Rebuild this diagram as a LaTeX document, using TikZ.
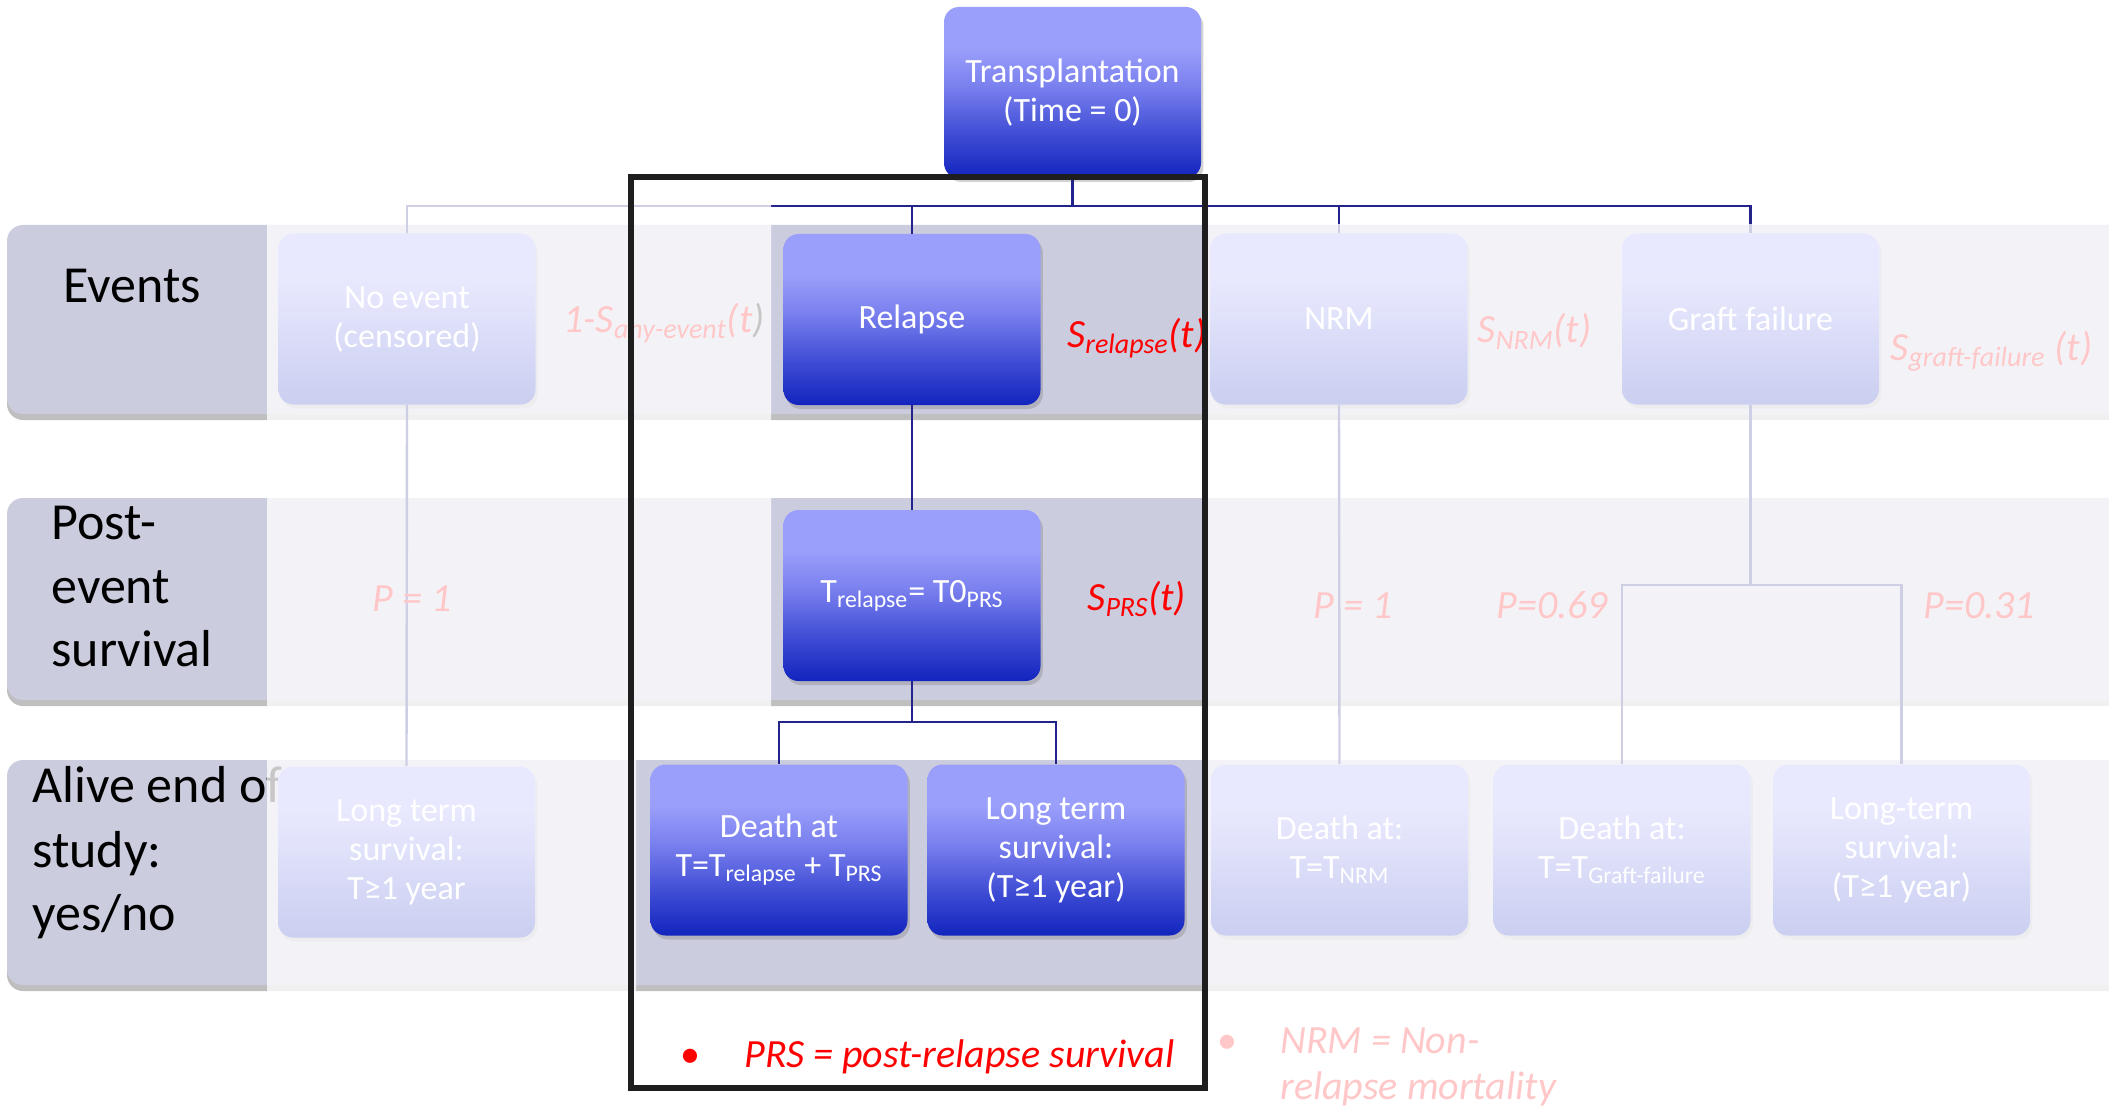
\documentclass[tikz,border=0pt]{standalone}
\usepackage{fontspec}
\setmainfont{Carlito}
\usetikzlibrary{shadows}

\definecolor{navy}{RGB}{35,35,140}
\definecolor{bandc}{RGB}{204,204,223}
\definecolor{bxdark}{RGB}{18,36,190}
\definecolor{bxmidA}{RGB}{60,74,211}
\definecolor{bxmidB}{RGB}{122,128,238}
\definecolor{bxlight}{RGB}{154,159,251}
\definecolor{framec}{RGB}{30,30,30}

% blue box fill: light on top, deep blue at the bottom
\pgfdeclareverticalshading{boxgrad}{100bp}{color(0bp)=(bxdark); color(25bp)=(bxdark); color(37bp)=(bxmidA); color(52bp)=(bxmidB); color(63bp)=(bxlight); color(100bp)=(bxlight)}

\begin{document}
\begin{tikzpicture}[x=0.5pt,y=-0.5pt,
  evbox/.style={shade, shading=boxgrad, rounded corners=7.5pt,
    minimum width=128.5pt, minimum height=85.5pt, inner sep=0pt,
    text=white, align=center, font=\fontsize{17}{19.5}\selectfont,
    drop shadow={opacity=0.35, shadow xshift=1.2pt, shadow yshift=-2pt}},
  link/.style={draw=navy, line width=1.2pt},
  band/.style={fill=bandc, drop shadow={opacity=0.5, shadow xshift=0pt, shadow yshift=-3pt}},
  rowlabel/.style={anchor=base west, inner sep=0pt, font=\fontsize{26}{32}\selectfont},
  prob/.style={anchor=base west, inner sep=0pt, text=red, font=\fontsize{20}{24}\selectfont\itshape},
  fade/.style={fill=white, fill opacity=0.78},
]
\useasboundingbox (0,0) rectangle (2109,1107);
\fill[white] (0,0) rectangle (2109,1107);

% row bands
\path[band, rounded corners=8pt] (7,225) rectangle (2160,414);
\path[band, rounded corners=8pt] (7,498) rectangle (2160,700);
\path[band, rounded corners=8pt] (7,760) rectangle (2160,985);

% row labels
\node[rowlabel] (lev)  at (63,302) {Events};
\node[rowlabel] (lpe1) at (51,539) {Post-};
\node[rowlabel] (lpe2) at (51,603) {event};
\node[rowlabel] (lpe3) at (51,666) {survival};
\node[rowlabel] (lal1) at (32,802) {Alive end of};
\node[rowlabel] (lal2) at (32,867) {study:};
\node[rowlabel] (lal3) at (32,930) {yes/no};

% boxes
\node[evbox] (trans) at (1072.5,92.5) {Transplantation\\(Time = 0)};
\node[evbox] (noev)  at (407,319)    {No event\\(censored)};
\node[evbox] (rel)   at (912,319.5)  {Relapse};
\node[evbox] (nrm)   at (1339,319)   {NRM};
\node[evbox] (gf)    at (1750.5,319) {Graft failure};
\node[evbox] (trel)  at (912,595.5)  {T\textsubscript{relapse}= T0\textsubscript{PRS}};
\node[evbox] (lt1)   at (406.5,852)  {Long term\\survival:\\T≥1 year};
\node[evbox] (d1)    at (779,850)    {Death at\\T=T\textsubscript{relapse} + T\textsubscript{PRS}};
\node[evbox] (lt2)   at (1056,850)   {Long term\\survival:\\(T≥1 year)};
\node[evbox] (d2)    at (1339.5,850) {Death at:\\T=T\textsubscript{NRM}};
\node[evbox] (d3)    at (1622,850)   {Death at:\\T=T\textsubscript{Graft-failure}};
\node[evbox] (lt3)   at (1901.5,850) {Long-term\\survival:\\(T≥1 year)};

% tree connectors
\coordinate (bus) at (1072.5,206);
\draw[link] (trans.south) -- (bus);
\draw[link] (noev.north) |- (gf.north |- bus) -- (gf.north);
\draw[link] (rel.north) -- (rel.north |- bus);
\draw[link] (nrm.north) -- (nrm.north |- bus);
\draw[link] (rel.south) -- (trel.north);
\coordinate (split1) at (912,722);
\draw[link] (trel.south) -- (split1);
\draw[link] (d1.north) |- (split1) -| (lt2.north);
\draw[link] (noev.south) -- (lt1.north);
\draw[link] (nrm.south) -- (d2.north);
\coordinate (split2) at (1750.5,585);
\draw[link] (gf.south) -- (split2);
\draw[link] (d3.north) |- (split2) -| (lt3.north);

% survival functions and probabilities
\node[prob] (srel) at (1067,347) {S\textsubscript{relapse}(t)};
\node[prob] (sprs) at (1087,610) {S\textsubscript{PRS}(t)};
\node[prob] (sany) at (563,332)  {1-S\textsubscript{any-event}(t\textcolor{black}{)}};
\node[prob] (snrm) at (1477,343) {S\textsubscript{NRM}(t)};
\node[prob] (sgf)  at (1890,360) {S\textsubscript{graft-failure} (t)};
\node[prob] (p1)   at (372,611)  {P = 1};
\node[prob] (p2)   at (1313,618) {P = 1};
\node[prob] (p3)   at (1496,618) {P=0.69};
\node[prob] (p4)   at (1923,618) {P=0.31};

% notes
\node[prob] (prsnote) at (680,1067) {\makebox[32pt][l]{\upshape\textbullet}PRS = post-relapse survival};
\node[prob] (nrmnote) at (1217,1053) {\makebox[31.5pt][l]{\upshape\textbullet}NRM = Non-};
\node[prob] (nrmnote2) at (1280,1099) {relapse mortality};

% wash over the branches outside the relapse path
\fill[fade] (267,188) -- (771,188) -- (771,745) -- (636,745) -- (636,1120) -- (267,1120) -- cycle;
\fill[fade] (1207,224) rectangle (2160,1120);

% frame around the relapse path
\draw[line width=2.75pt, draw=framec] (631,177) rectangle (1205,1088);
\end{tikzpicture}
\end{document}
